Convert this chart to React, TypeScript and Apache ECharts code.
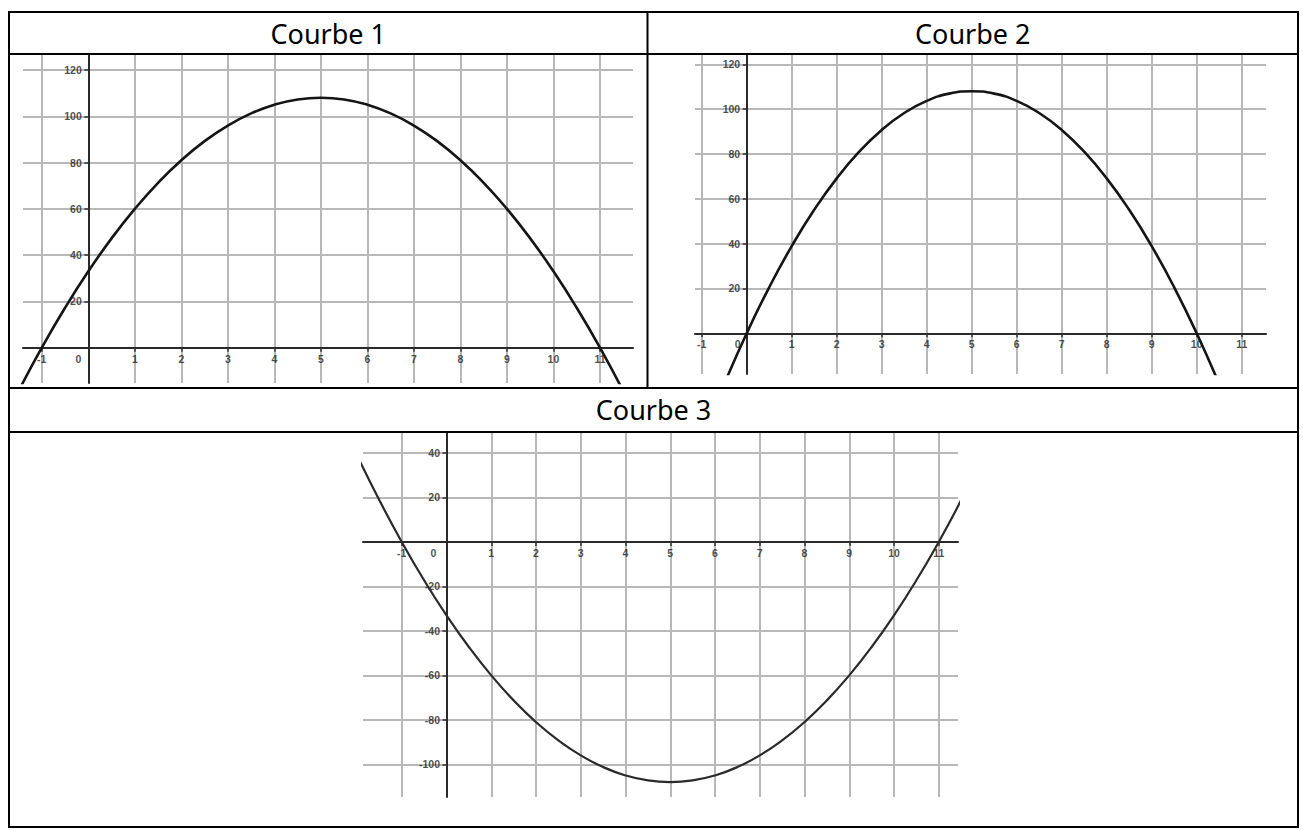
import React, { useEffect, useRef } from 'react';
import * as echarts from 'echarts';

// Sampled x positions (shared by all three curves)
const xs = [-2, -1.5, -1, -0.5, 0, 0.5, 1, 1.5, 2, 2.5, 3, 3.5, 4, 4.5, 5, 5.5, 6, 6.5, 7, 7.5, 8, 8.5, 9, 9.5, 10, 10.5, 11, 11.5, 12];

// Values
const curve1Y = [-39, -18.75, 0, 17.25, 33, 47.25, 60, 71.25, 81, 89.25, 96, 101.25, 105, 107.25, 108, 107.25, 105, 101.25, 96, 89.25, 81, 71.25, 60, 47.25, 33, 17.25, 0, -18.75, -39];
const curve2Y = [-103.68, -74.52, -47.52, -22.68, 0, 20.52, 38.88, 55.08, 69.12, 81, 90.72, 98.28, 103.68, 106.92, 108, 106.92, 103.68, 98.28, 90.72, 81, 69.12, 55.08, 38.88, 20.52, 0, -22.68, -47.52, -74.52, -103.68];
const curve3Y = [39, 18.75, 0, -17.25, -33, -47.25, -60, -71.25, -81, -89.25, -96, -101.25, -105, -107.25, -108, -107.25, -105, -101.25, -96, -89.25, -81, -71.25, -60, -47.25, -33, -17.25, 0, 18.75, 39];

// Tick labels
const xTickLabels = [-1, 0, 1, 2, 3, 4, 5, 6, 7, 8, 9, 10, 11];
const yTickLabelsTop = [20, 40, 60, 80, 100, 120];
const yTickLabelsBottom = [-100, -80, -60, -40, -20, 20, 40];

// Grid line values
const xGridLines = [-1, 0, 1, 2, 3, 4, 5, 6, 7, 8, 9, 10, 11];
const yGridLinesTop = [0, 20, 40, 60, 80, 100, 120];
const yGridLinesBottom = [-100, -80, -60, -40, -20, 0, 20, 40];

const titles = ['Courbe 1', 'Courbe 2', 'Courbe 3'];

const LABEL_FONT = '"Liberation Sans", Arial, sans-serif';
const TITLE_FONT = '"Noto Sans", "Open Sans", sans-serif';

function panel(
  i: number,
  rect: number[],
  xr: number[],
  yr: number[],
  yLab: number[],
  yGrid: number[],
  ys: number[],
  zeroShift: number,
  curveColor: string,
  curveWidth: number
) {
  const labelStyle = { fontSize: 10.5, fontWeight: 'bold' as const, color: '#1e1e1e', fontFamily: LABEL_FONT };
  const hidden = { color: 'rgba(0,0,0,0)' };
  return {
    grid: { left: rect[0], top: rect[1], width: rect[2], height: rect[3], containLabel: false },
    xAxis: {
      type: 'value',
      gridIndex: i,
      min: xr[0],
      max: xr[1],
      z: 3,
      splitLine: { show: false },
      axisLine: { onZero: true, lineStyle: { color: '#2a2a2a', width: 2 } },
      axisTick: {
        show: true,
        length: 4,
        customValues: xTickLabels.filter((v) => v !== 0),
        lineStyle: { color: '#333', width: 1.5 },
      },
      axisLabel: { show: false },
    },
    yAxis: {
      type: 'value',
      gridIndex: i,
      min: yr[0],
      max: yr[1],
      z: 3,
      splitLine: { show: false },
      axisLine: { onZero: true, lineStyle: { color: '#2a2a2a', width: 2 } },
      axisTick: { show: true, length: 4, customValues: yLab, lineStyle: { color: '#333', width: 1.5 } },
      axisLabel: { show: false },
    },
    series: [
      {
        type: 'line',
        xAxisIndex: i,
        yAxisIndex: i,
        data: xs.map((x, k) => [x, ys[k]]),
        smooth: true,
        symbol: 'none',
        showSymbol: false,
        clip: true,
        silent: true,
        z: 4,
        lineStyle: { color: curveColor, width: curveWidth },
        markLine: {
          silent: true,
          z: 1,
          symbol: ['none', 'none'],
          label: { show: false },
          lineStyle: { color: '#b8b8b8', width: 2, type: 'solid' },
          emphasis: { disabled: true },
          data: [
            ...xGridLines.map((v) => ({ xAxis: v })),
            ...yGrid.map((v) => ({ yAxis: v })),
          ],
        },
      },
      {
        // x-axis tick labels, placed on the x axis (y = 0)
        type: 'scatter',
        xAxisIndex: i,
        yAxisIndex: i,
        silent: true,
        z: 3,
        symbolSize: 1,
        itemStyle: hidden,
        clip: false,
        data: xTickLabels.map((v) => ({
          value: [v, 0],
          label: v === 0 ? { offset: [zeroShift, 0] } : {},
        })),
        label: {
          show: true,
          position: 'bottom',
          distance: 5,
          ...labelStyle,
          formatter: (p: any) => String(p.value[0]),
        },
      },
      {
        // y-axis tick labels, placed on the y axis (x = 0)
        type: 'scatter',
        xAxisIndex: i,
        yAxisIndex: i,
        silent: true,
        z: 3,
        symbolSize: 1,
        itemStyle: hidden,
        clip: false,
        data: yLab.map((v) => [0, v]),
        label: {
          show: true,
          position: 'left',
          distance: 6,
          ...labelStyle,
          formatter: (p: any) => String(p.value[1]),
        },
      },
    ],
  };
}

export default function App() {
  const ref = useRef<HTMLDivElement>(null);
  useEffect(() => {
    if (!ref.current) return;
    const chart = echarts.init(ref.current, undefined, { renderer: 'svg' });
    const p1 = panel(0, [23, 55, 610, 328], [-1.404, 11.71], [-15.25, 126.48], yTickLabelsTop, yGridLinesTop, curve1Y, -10, '#151515', 2.6);
    const p2 = panel(1, [695, 55, 571, 319], [-1.149, 11.54], [-18.17, 124.15], yTickLabelsTop, yGridLinesTop, curve2Y, -9, '#151515', 2.6);
    const p3 = panel(2, [363, 433, 595, 364], [-1.866, 11.43], [-114.7, 48.99], yTickLabelsBottom, yGridLinesBottom, curve3Y, -13, '#2a2a2a', 2.2);
    const panels = [p1, p2, p3];

    const L = 9, R = 1298, T = 12, B = 827, MID = 647.5;
    const line = (x1: number, y1: number, x2: number, y2: number, w = 2) => ({
      type: 'line',
      z: 10,
      silent: true,
      shape: { x1, y1, x2, y2 },
      style: { stroke: '#000', lineWidth: w },
    });
    const title = (text: string, x: number, y: number) => ({
      type: 'text',
      z: 10,
      silent: true,
      x,
      y,
      style: { text, fontSize: 27, fontFamily: TITLE_FONT, fill: '#000', align: 'center', verticalAlign: 'middle' },
    });

    chart.setOption({
      animation: false,
      backgroundColor: '#fff',
      grid: panels.map((p) => p.grid),
      xAxis: panels.map((p) => p.xAxis),
      yAxis: panels.map((p) => p.yAxis),
      series: panels.flatMap((p) => p.series),
      graphic: [
        line(L - 1, T, R + 1, T),
        line(L - 1, B, R + 1, B),
        line(L, T, L, B),
        line(R, T, R, B),
        line(MID, T, MID, 388),
        line(L, 54, R, 54),
        line(L, 388, R, 388),
        line(L, 432, R, 432, 1.8),
        title(titles[0], (L + MID) / 2, 33),
        title(titles[1], (MID + R) / 2, 33),
        title(titles[2], (L + R) / 2, 409),
      ],
    });
    return () => chart.dispose();
  }, []);
  return <div ref={ref} style={{ position: 'fixed', left: 0, top: 0, width: 1303, height: 830 }} />;
}
